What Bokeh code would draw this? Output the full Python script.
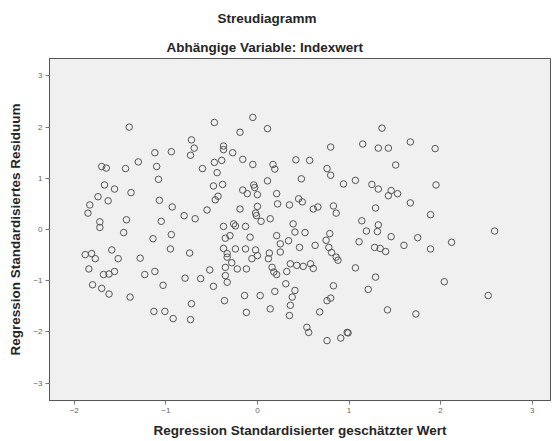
from bokeh.plotting import figure
from bokeh.models import Title, FixedTicker, ColumnDataSource
from bokeh.embed import file_html
from bokeh.resources import INLINE

# Regression standardized predicted value (x) and standardized residual (y)
pred = [
    -1.40, -0.47, -0.05, -0.19, 0.11, -0.72, -0.69, -0.73, -0.94, -1.12,
    -1.30, -1.44, -1.70, -1.65, -1.10, -0.60, -1.08, -1.67, -1.56, -1.38,
    -1.74, -1.63, -1.83, -1.85, -1.07, -0.93, -0.80, -0.68, -0.55, -1.43,
    -1.05, -1.72, -1.72, -1.46, -1.14, -0.94, -0.95, -0.74, -1.59, -1.88,
    -1.81, -1.77, -1.52, -1.28, -1.84, -1.68, -1.62, -1.56, -1.23, -1.12,
    -1.03, -0.79, -0.62, -0.52, -0.48, -1.80, -1.70, -1.62, -1.39, -0.72,
    -1.13, -1.01, -0.92, -0.73, -0.47, -0.39, -0.37, -0.37, -0.27, -0.16,
    -0.05, 0.17, 0.19, 0.42, 0.57, 0.80, 0.76, 0.80, 0.94, -0.44,
    -0.48, -0.38, -0.43, -0.46, -0.16, -0.11, -0.04, -0.03, 0.00, 0.11,
    0.48, 0.21, 0.22, 0.35, 0.45, 0.49, 0.61, 0.66, 0.83, 0.86,
    -0.19, 0.00, -0.02, -0.01, 0.04, 0.14, -0.37, -0.26, -0.24, -0.13,
    0.39, -0.35, -0.30, -0.08, 0.21, 0.41, 0.52, 0.79, 0.75, 0.25,
    0.34, 0.46, 0.63, 0.78, 0.81, 0.86, 0.88, -0.37, -0.24, -0.13,
    -0.02, -0.33, -0.33, -0.06, 0.00, 0.13, 0.12, 0.25, -0.28, -0.35,
    -0.22, -0.12, 0.16, 0.18, 0.21, 0.32, 0.36, 0.43, 0.50, 0.58,
    0.61, -0.35, -0.33, 0.31, 0.41, 0.19, 0.83, -0.14, 0.03, -0.36,
    0.38, 0.36, 0.76, 0.80, 0.14, -0.12, 0.35, 0.68, 0.54, 0.56,
    0.76, 0.91, 0.98, 1.36, 1.15, 1.32, 1.43, 1.67, 1.94, 1.51,
    1.07, 1.25, 1.32, 1.46, 1.43, 1.53, 1.67, 1.95, 1.29, 1.89,
    1.14, 1.32, 1.19, 1.31, 1.46, 1.75, 2.59, 1.11, 1.60, 1.28,
    1.34, 1.40, 1.89, 2.12, 1.07, 1.29, 2.04, 1.21, 2.52, 1.42,
    1.73, 0.99,
]
resid = [
    2.00, 2.09, 2.19, 1.90, 1.97, 1.75, 1.59, 1.45, 1.52, 1.50,
    1.32, 1.19, 1.23, 1.20, 1.23, 1.19, 0.98, 0.87, 0.79, 0.72,
    0.64, 0.56, 0.48, 0.32, 0.57, 0.44, 0.27, 0.21, 0.38, 0.19,
    0.16, 0.15, 0.04, -0.06, -0.18, -0.10, -0.38, -0.46, -0.40, -0.49,
    -0.47, -0.57, -0.57, -0.56, -0.77, -0.88, -0.87, -0.82, -0.88, -0.82,
    -1.09, -0.95, -0.96, -0.79, -1.11, -1.08, -1.15, -1.26, -1.32, -1.45,
    -1.60, -1.60, -1.74, -1.76, 1.31, 1.35, 1.63, 1.56, 1.50, 1.37,
    1.27, 1.27, 1.18, 1.36, 1.35, 1.61, 1.19, 1.06, 0.89, 1.11,
    0.85, 0.88, 0.65, 0.58, 0.77, 0.70, 0.87, 0.82, 0.68, 0.95,
    0.99, 0.70, 0.50, 0.48, 0.60, 0.54, 0.40, 0.44, 0.46, 0.32,
    0.40, 0.45, 0.32, 0.27, 0.16, 0.21, 0.06, 0.11, 0.07, 0.06,
    0.11, -0.17, -0.12, -0.15, -0.12, -0.05, -0.06, -0.08, -0.21, -0.28,
    -0.22, -0.35, -0.31, -0.35, -0.45, -0.54, -0.60, -0.37, -0.38, -0.38,
    -0.40, -0.47, -0.54, -0.57, -0.51, -0.46, -0.57, -0.44, -0.65, -0.74,
    -0.77, -0.77, -0.74, -0.83, -0.88, -0.82, -0.67, -0.70, -0.72, -0.67,
    -0.76, -0.90, -1.03, -1.06, -1.19, -1.21, -1.10, -1.29, -1.29, -1.39,
    -1.32, -1.48, -1.39, -1.34, -1.55, -1.62, -1.68, -1.61, -1.91, -2.01,
    -2.17, -2.12, -2.01, 1.98, 1.67, 1.59, 1.59, 1.71, 1.58, 1.26,
    0.96, 0.88, 0.79, 0.76, 0.66, 0.70, 0.52, 0.87, 0.42, 0.29,
    0.17, 0.09, -0.03, -0.04, -0.14, -0.16, -0.03, -0.24, -0.31, -0.35,
    -0.37, -0.43, -0.38, -0.25, -0.75, -0.93, -1.02, -1.17, -1.29, -1.57,
    -1.65, -2.02,
]

x_ticks = [-2, -1, 0, 1, 2, 3]
y_ticks = [-3, -2, -1, 0, 1, 2, 3]

title_main = "Streudiagramm"
title_sub = "Abhängige Variable: Indexwert"
x_label = "Regression Standardisierter geschätzter Wert"
y_label = "Regression Standardisiertes Residuum"

FONT = "Liberation Sans"

p = figure(
    width=553, height=441,
    x_range=(-2.27, 3.2), y_range=(-3.34, 3.34),
    output_backend="svg", toolbar_location=None,
    min_border_left=49, min_border_right=3,
    min_border_top=58, min_border_bottom=41,
)

p.add_layout(Title(text=title_sub, align="left", offset=117, text_font=FONT,
                   text_font_size="13.5px", text_font_style="bold",
                   text_color="#262626", standoff=7), "above")
p.add_layout(Title(text=title_main, align="left", offset=168, text_font=FONT,
                   text_font_size="13.5px", text_font_style="bold",
                   text_color="#262626", standoff=17), "above")

p.background_fill_color = "#f0f0f0"
p.border_fill_color = "white"
p.outline_line_color = "#555555"
p.outline_line_width = 1
p.grid.visible = False

src = ColumnDataSource(dict(x=pred, y=resid))
p.scatter("x", "y", source=src, marker="circle", size=6.5,
          fill_color=None, line_color="#555555", line_width=1)

for ax, ticks, label in ((p.xaxis[0], x_ticks, x_label), (p.yaxis[0], y_ticks, y_label)):
    ax.ticker = FixedTicker(ticks=ticks)
    ax.minor_tick_line_color = None
    ax.major_tick_out = 4
    ax.major_tick_in = 0
    ax.major_tick_line_color = "#777777"
    ax.axis_line_color = "#555555"
    ax.major_label_text_font = FONT
    ax.major_label_text_font_size = "8px"
    ax.major_label_text_color = "#666666"
    ax.major_label_standoff = 3
    ax.axis_label = label
    ax.axis_label_text_font = FONT
    ax.axis_label_text_font_size = "13.5px"
    ax.axis_label_text_font_style = "bold"
    ax.axis_label_text_color = "#262626"

p.xaxis[0].axis_label_standoff = 7
p.yaxis[0].axis_label_standoff = 7

open("out.html", "w").write(file_html(p, INLINE))
